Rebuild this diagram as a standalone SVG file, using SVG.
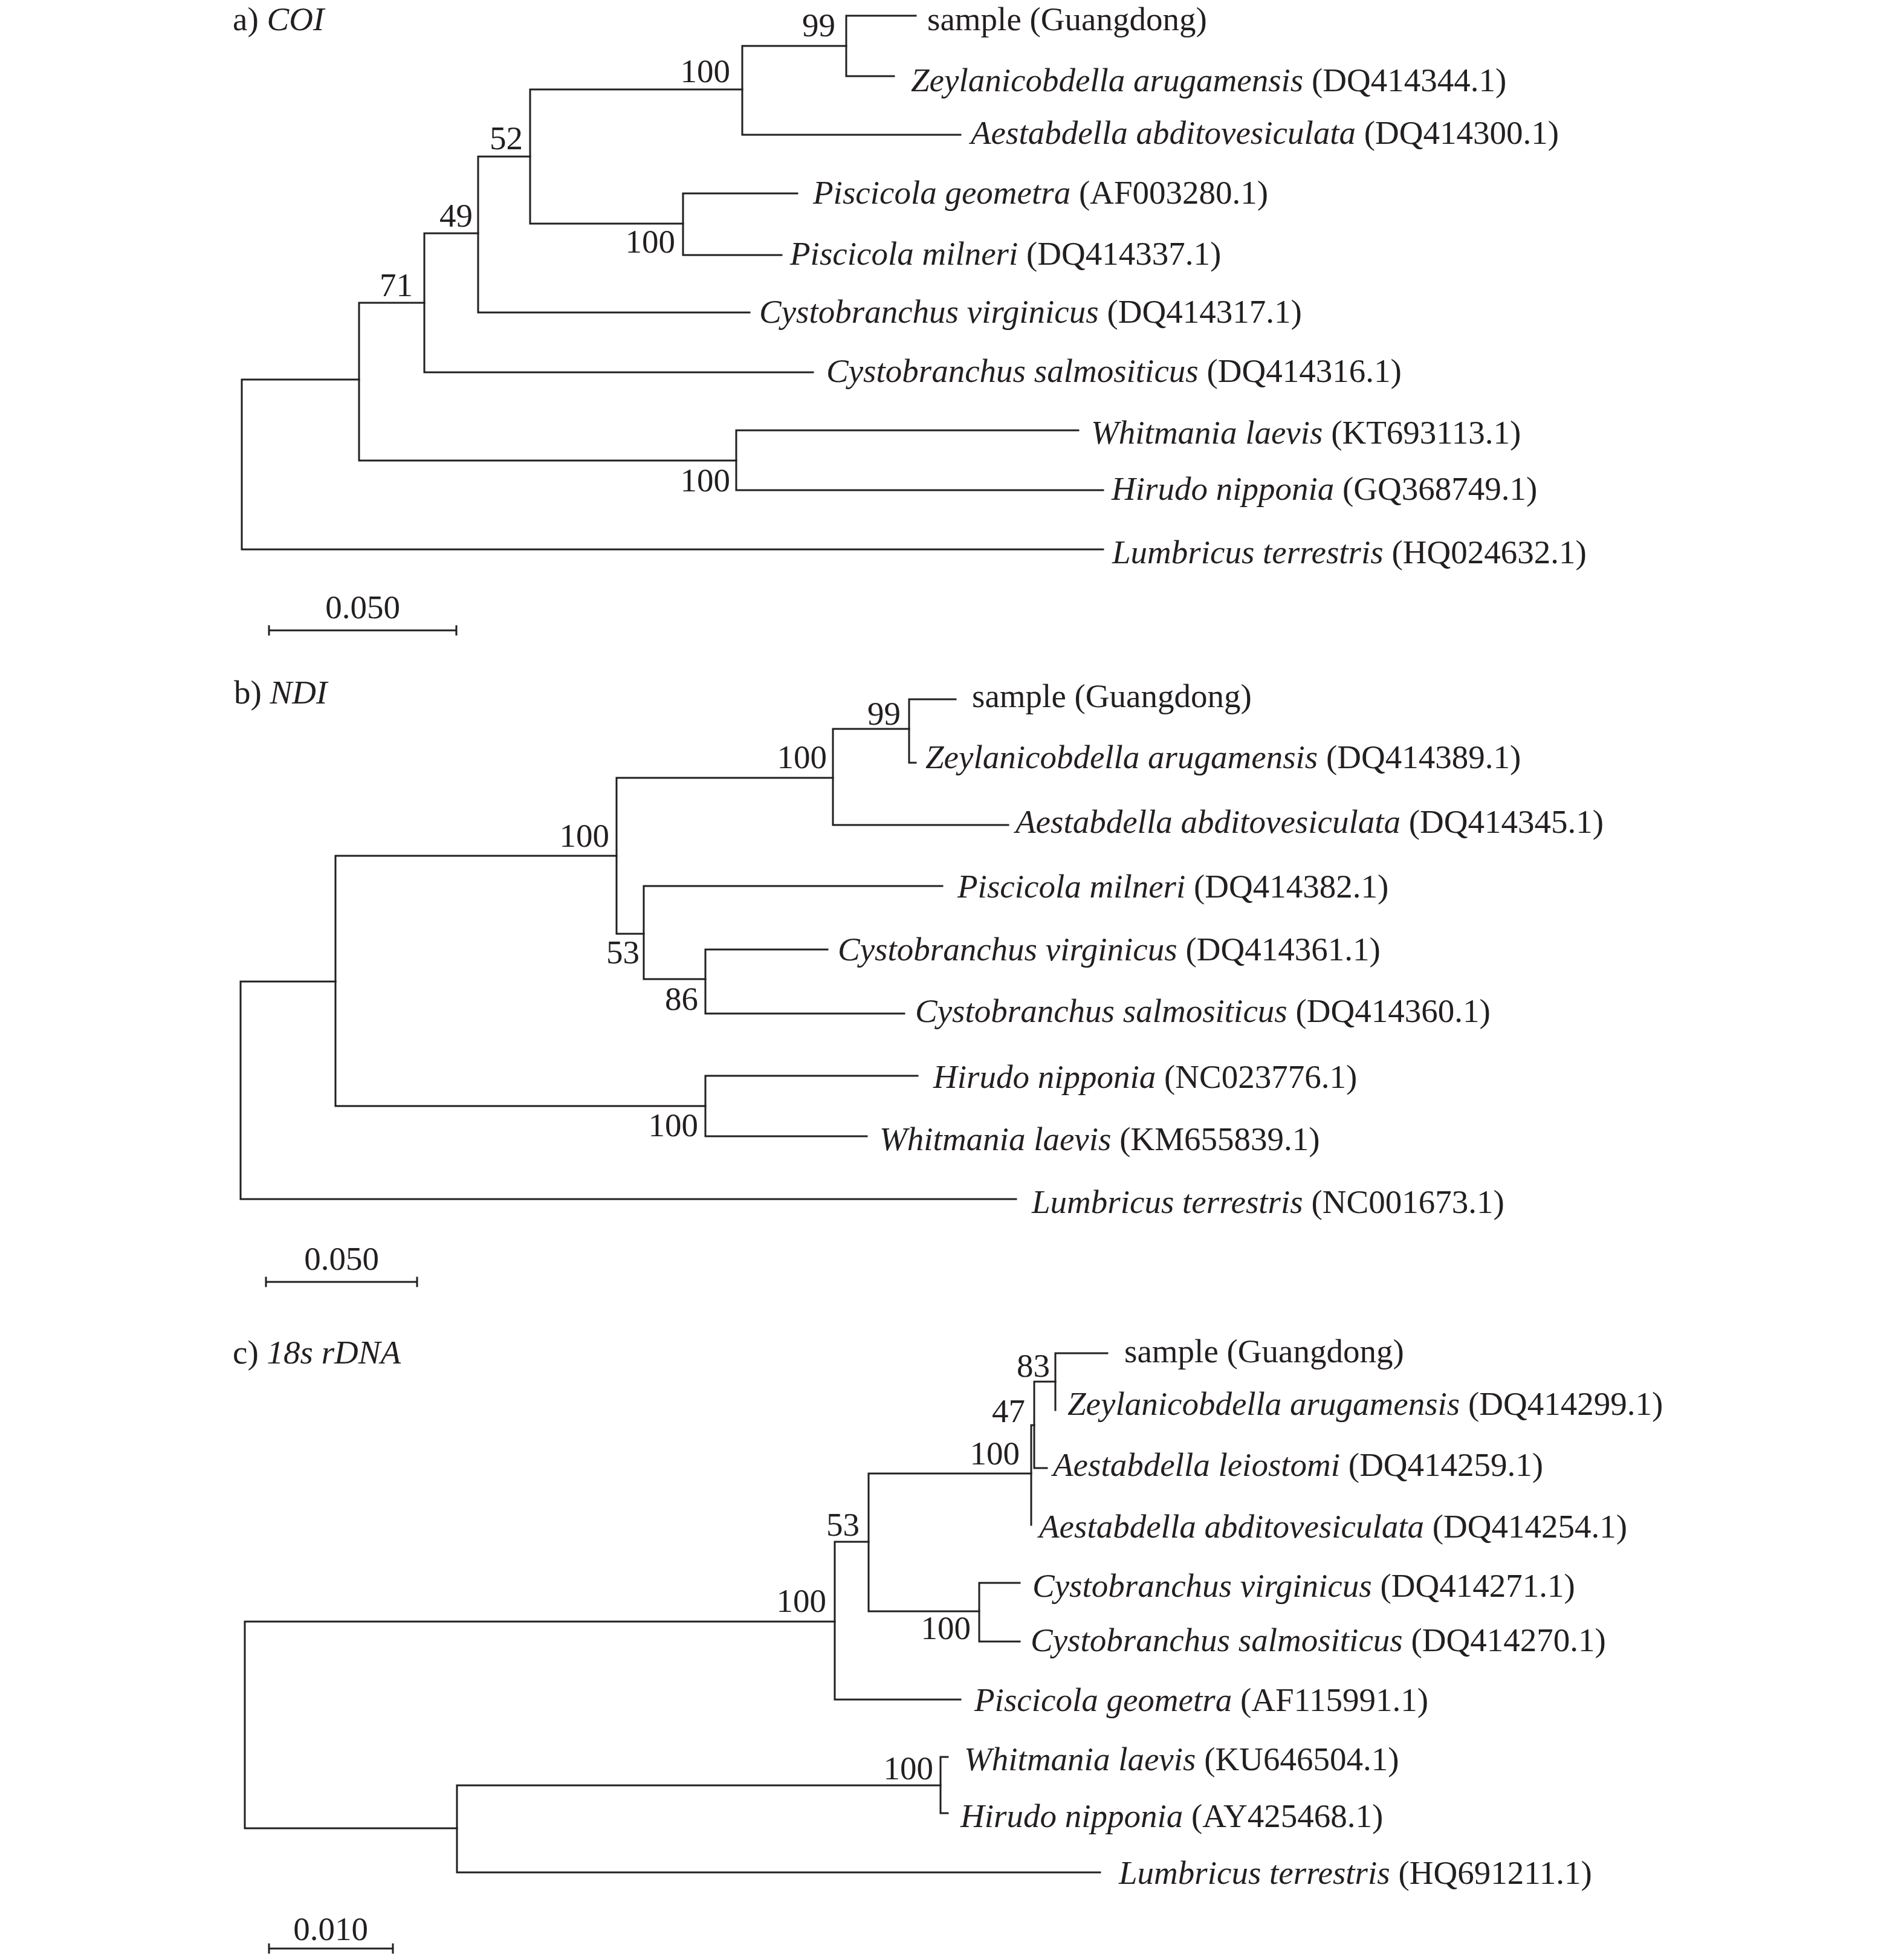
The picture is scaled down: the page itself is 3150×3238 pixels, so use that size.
<svg xmlns="http://www.w3.org/2000/svg" width="3150" height="3238" viewBox="0 0 3150 3238">
<style>
  .br { fill: none; stroke: #231f20; stroke-width: 3; stroke-linejoin: miter; stroke-linecap: square; }
  text { font-family: "Liberation Serif", "Times New Roman", serif; font-size: 55px; fill: #231f20; }
  .sup { text-anchor: end; }
  .sc { text-anchor: middle; }
  .i { font-style: italic; }
</style>
<rect width="3150" height="3238" fill="#ffffff"/>

<!-- ================= Panel a) COI ================= -->
<g id="panel-a">
  <text id="a-title" x="385" y="50">a) <tspan class="i">COI</tspan></text>
  <g id="a-connectors">
    <path class="br" d="M594 628 H400 V909 H1825"/>
    <path class="br" d="M702 501 H594 V762 H1218"/>
    <path class="br" d="M791 386 H702 V616 H1345"/>
    <path class="br" d="M877 259 H791 V517 H1240"/>
    <path class="br" d="M1228 148 H877 V370 H1130"/>
    <path class="br" d="M1400 76 H1228 V223 H1589"/>
    <path class="br" d="M1515 26 H1400 V126 H1479"/>
    <path class="br" d="M1319 320 H1130 V422 H1293"/>
    <path class="br" d="M1784 712 H1218 V811 H1825"/>
  </g>
  <g id="a-support">
    <text class="sup" x="1382" y="60">99</text>
    <text class="sup" x="1208" y="136">100</text>
    <text class="sup" x="865" y="247">52</text>
    <text class="sup" x="782" y="375">49</text>
    <text class="sup" x="683" y="490">71</text>
    <text class="sup" x="1117" y="418">100</text>
    <text class="sup" x="1208" y="813">100</text>
  </g>
  <g id="a-leaf-sample"><text x="1534" y="50">sample (Guangdong)</text></g>
  <g id="a-leaf-zeyl"><text x="1507" y="151"><tspan class="i">Zeylanicobdella arugamensis</tspan> (DQ414344.1)</text></g>
  <g id="a-leaf-aest"><text x="1606" y="238"><tspan class="i">Aestabdella abditovesiculata</tspan> (DQ414300.1)</text></g>
  <g id="a-leaf-pgeo"><text x="1345" y="337"><tspan class="i">Piscicola geometra</tspan> (AF003280.1)</text></g>
  <g id="a-leaf-pmil"><text x="1307" y="438"><tspan class="i">Piscicola milneri</tspan> (DQ414337.1)</text></g>
  <g id="a-leaf-cvir"><text x="1256" y="534"><tspan class="i">Cystobranchus virginicus</tspan> (DQ414317.1)</text></g>
  <g id="a-leaf-csal"><text x="1367" y="632"><tspan class="i">Cystobranchus salmositicus</tspan> (DQ414316.1)</text></g>
  <g id="a-leaf-whit"><text x="1805" y="734"><tspan class="i">Whitmania laevis</tspan> (KT693113.1)</text></g>
  <g id="a-leaf-hir"><text x="1839" y="827"><tspan class="i">Hirudo nipponia</tspan> (GQ368749.1)</text></g>
  <g id="a-leaf-lum"><text x="1840" y="932"><tspan class="i">Lumbricus terrestris</tspan> (HQ024632.1)</text></g>
  <g id="a-scale">
    <path class="br" d="M445 1036 V1050 M445 1043 H755 M755 1036 V1050"/>
    <text class="sc" x="600" y="1023">0.050</text>
  </g>
</g>

<!-- ================= Panel b) NDI ================= -->
<g id="panel-b">
  <text id="b-title" x="387" y="1164">b) <tspan class="i">NDI</tspan></text>
  <g id="b-connectors">
    <path class="br" d="M555 1624 H398 V1984 H1681"/>
    <path class="br" d="M1020 1416 H555 V1830 H1167"/>
    <path class="br" d="M1378 1287 H1020 V1545 H1065"/>
    <path class="br" d="M1504 1206 H1378 V1365 H1668"/>
    <path class="br" d="M1581 1157 H1504 V1262 H1515"/>
    <path class="br" d="M1559 1466 H1065 V1620 H1167"/>
    <path class="br" d="M1369 1571 H1167 V1677 H1496"/>
    <path class="br" d="M1518 1780 H1167 V1880 H1434"/>
  </g>
  <g id="b-support">
    <text class="sup" x="1490" y="1199">99</text>
    <text class="sup" x="1368" y="1271">100</text>
    <text class="sup" x="1008" y="1401">100</text>
    <text class="sup" x="1058" y="1594">53</text>
    <text class="sup" x="1155" y="1671">86</text>
    <text class="sup" x="1155" y="1880">100</text>
  </g>
  <g id="b-leaf-sample"><text x="1608" y="1170">sample (Guangdong)</text></g>
  <g id="b-leaf-zeyl"><text x="1531" y="1271"><tspan class="i">Zeylanicobdella arugamensis</tspan> (DQ414389.1)</text></g>
  <g id="b-leaf-aest"><text x="1680" y="1378"><tspan class="i">Aestabdella abditovesiculata</tspan> (DQ414345.1)</text></g>
  <g id="b-leaf-pmil"><text x="1584" y="1485"><tspan class="i">Piscicola milneri</tspan> (DQ414382.1)</text></g>
  <g id="b-leaf-cvir"><text x="1386" y="1589"><tspan class="i">Cystobranchus virginicus</tspan> (DQ414361.1)</text></g>
  <g id="b-leaf-csal"><text x="1514" y="1691"><tspan class="i">Cystobranchus salmositicus</tspan> (DQ414360.1)</text></g>
  <g id="b-leaf-hir"><text x="1544" y="1800"><tspan class="i">Hirudo nipponia</tspan> (NC023776.1)</text></g>
  <g id="b-leaf-whit"><text x="1455" y="1903"><tspan class="i">Whitmania laevis</tspan> (KM655839.1)</text></g>
  <g id="b-leaf-lum"><text x="1707" y="2007"><tspan class="i">Lumbricus terrestris</tspan> (NC001673.1)</text></g>
  <g id="b-scale">
    <path class="br" d="M440 2114 V2128 M440 2121 H690 M690 2114 V2128"/>
    <text class="sc" x="565" y="2101">0.050</text>
  </g>
</g>

<!-- ================= Panel c) 18s rDNA ================= -->
<g id="panel-c">
  <text id="c-title" x="385" y="2256">c) <tspan class="i">18s rDNA</tspan></text>
  <g id="c-connectors">
    <path class="br" d="M1381 2683 H405 V3025 H756"/>
    <path class="br" d="M1437 2551 H1381 V2812 H1589"/>
    <path class="br" d="M1706 2438 H1437 V2666 H1620"/>
    <path class="br" d="M1711 2358 H1706 V2523"/>
    <path class="br" d="M1746 2286 H1711 V2429 H1732"/>
    <path class="br" d="M1832 2239 H1746 V2333"/>
    <path class="br" d="M1687 2619 H1620 V2716 H1687"/>
    <path class="br" d="M1556 2954 H756 V3098 H1820"/>
    <path class="br" d="M1568 2907 H1556 V3000 H1568"/>
  </g>
  <g id="c-support">
    <text class="sup" x="1737" y="2278">83</text>
    <text class="sup" x="1696" y="2353">47</text>
    <text class="sup" x="1687" y="2423">100</text>
    <text class="sup" x="1422" y="2541">53</text>
    <text class="sup" x="1367" y="2667">100</text>
    <text class="sup" x="1606" y="2712">100</text>
    <text class="sup" x="1544" y="2944">100</text>
  </g>
  <g id="c-leaf-sample"><text x="1860" y="2254">sample (Guangdong)</text></g>
  <g id="c-leaf-zeyl"><text x="1766" y="2341"><tspan class="i">Zeylanicobdella arugamensis</tspan> (DQ414299.1)</text></g>
  <g id="c-leaf-alei"><text x="1742" y="2442"><tspan class="i">Aestabdella leiostomi</tspan> (DQ414259.1)</text></g>
  <g id="c-leaf-aabd"><text x="1719" y="2544"><tspan class="i">Aestabdella abditovesiculata</tspan> (DQ414254.1)</text></g>
  <g id="c-leaf-cvir"><text x="1708" y="2642"><tspan class="i">Cystobranchus virginicus</tspan> (DQ414271.1)</text></g>
  <g id="c-leaf-csal"><text x="1705" y="2732"><tspan class="i">Cystobranchus salmositicus</tspan> (DQ414270.1)</text></g>
  <g id="c-leaf-pgeo"><text x="1612" y="2831"><tspan class="i">Piscicola geometra</tspan> (AF115991.1)</text></g>
  <g id="c-leaf-whit"><text x="1595" y="2929"><tspan class="i">Whitmania laevis</tspan> (KU646504.1)</text></g>
  <g id="c-leaf-hir"><text x="1589" y="3023"><tspan class="i">Hirudo nipponia</tspan> (AY425468.1)</text></g>
  <g id="c-leaf-lum"><text x="1851" y="3117"><tspan class="i">Lumbricus terrestris</tspan> (HQ691211.1)</text></g>
  <g id="c-scale">
    <path class="br" d="M445 3217 V3231 M445 3224 H650 M650 3217 V3231"/>
    <text class="sc" x="547" y="3210">0.010</text>
  </g>
</g>
</svg>
